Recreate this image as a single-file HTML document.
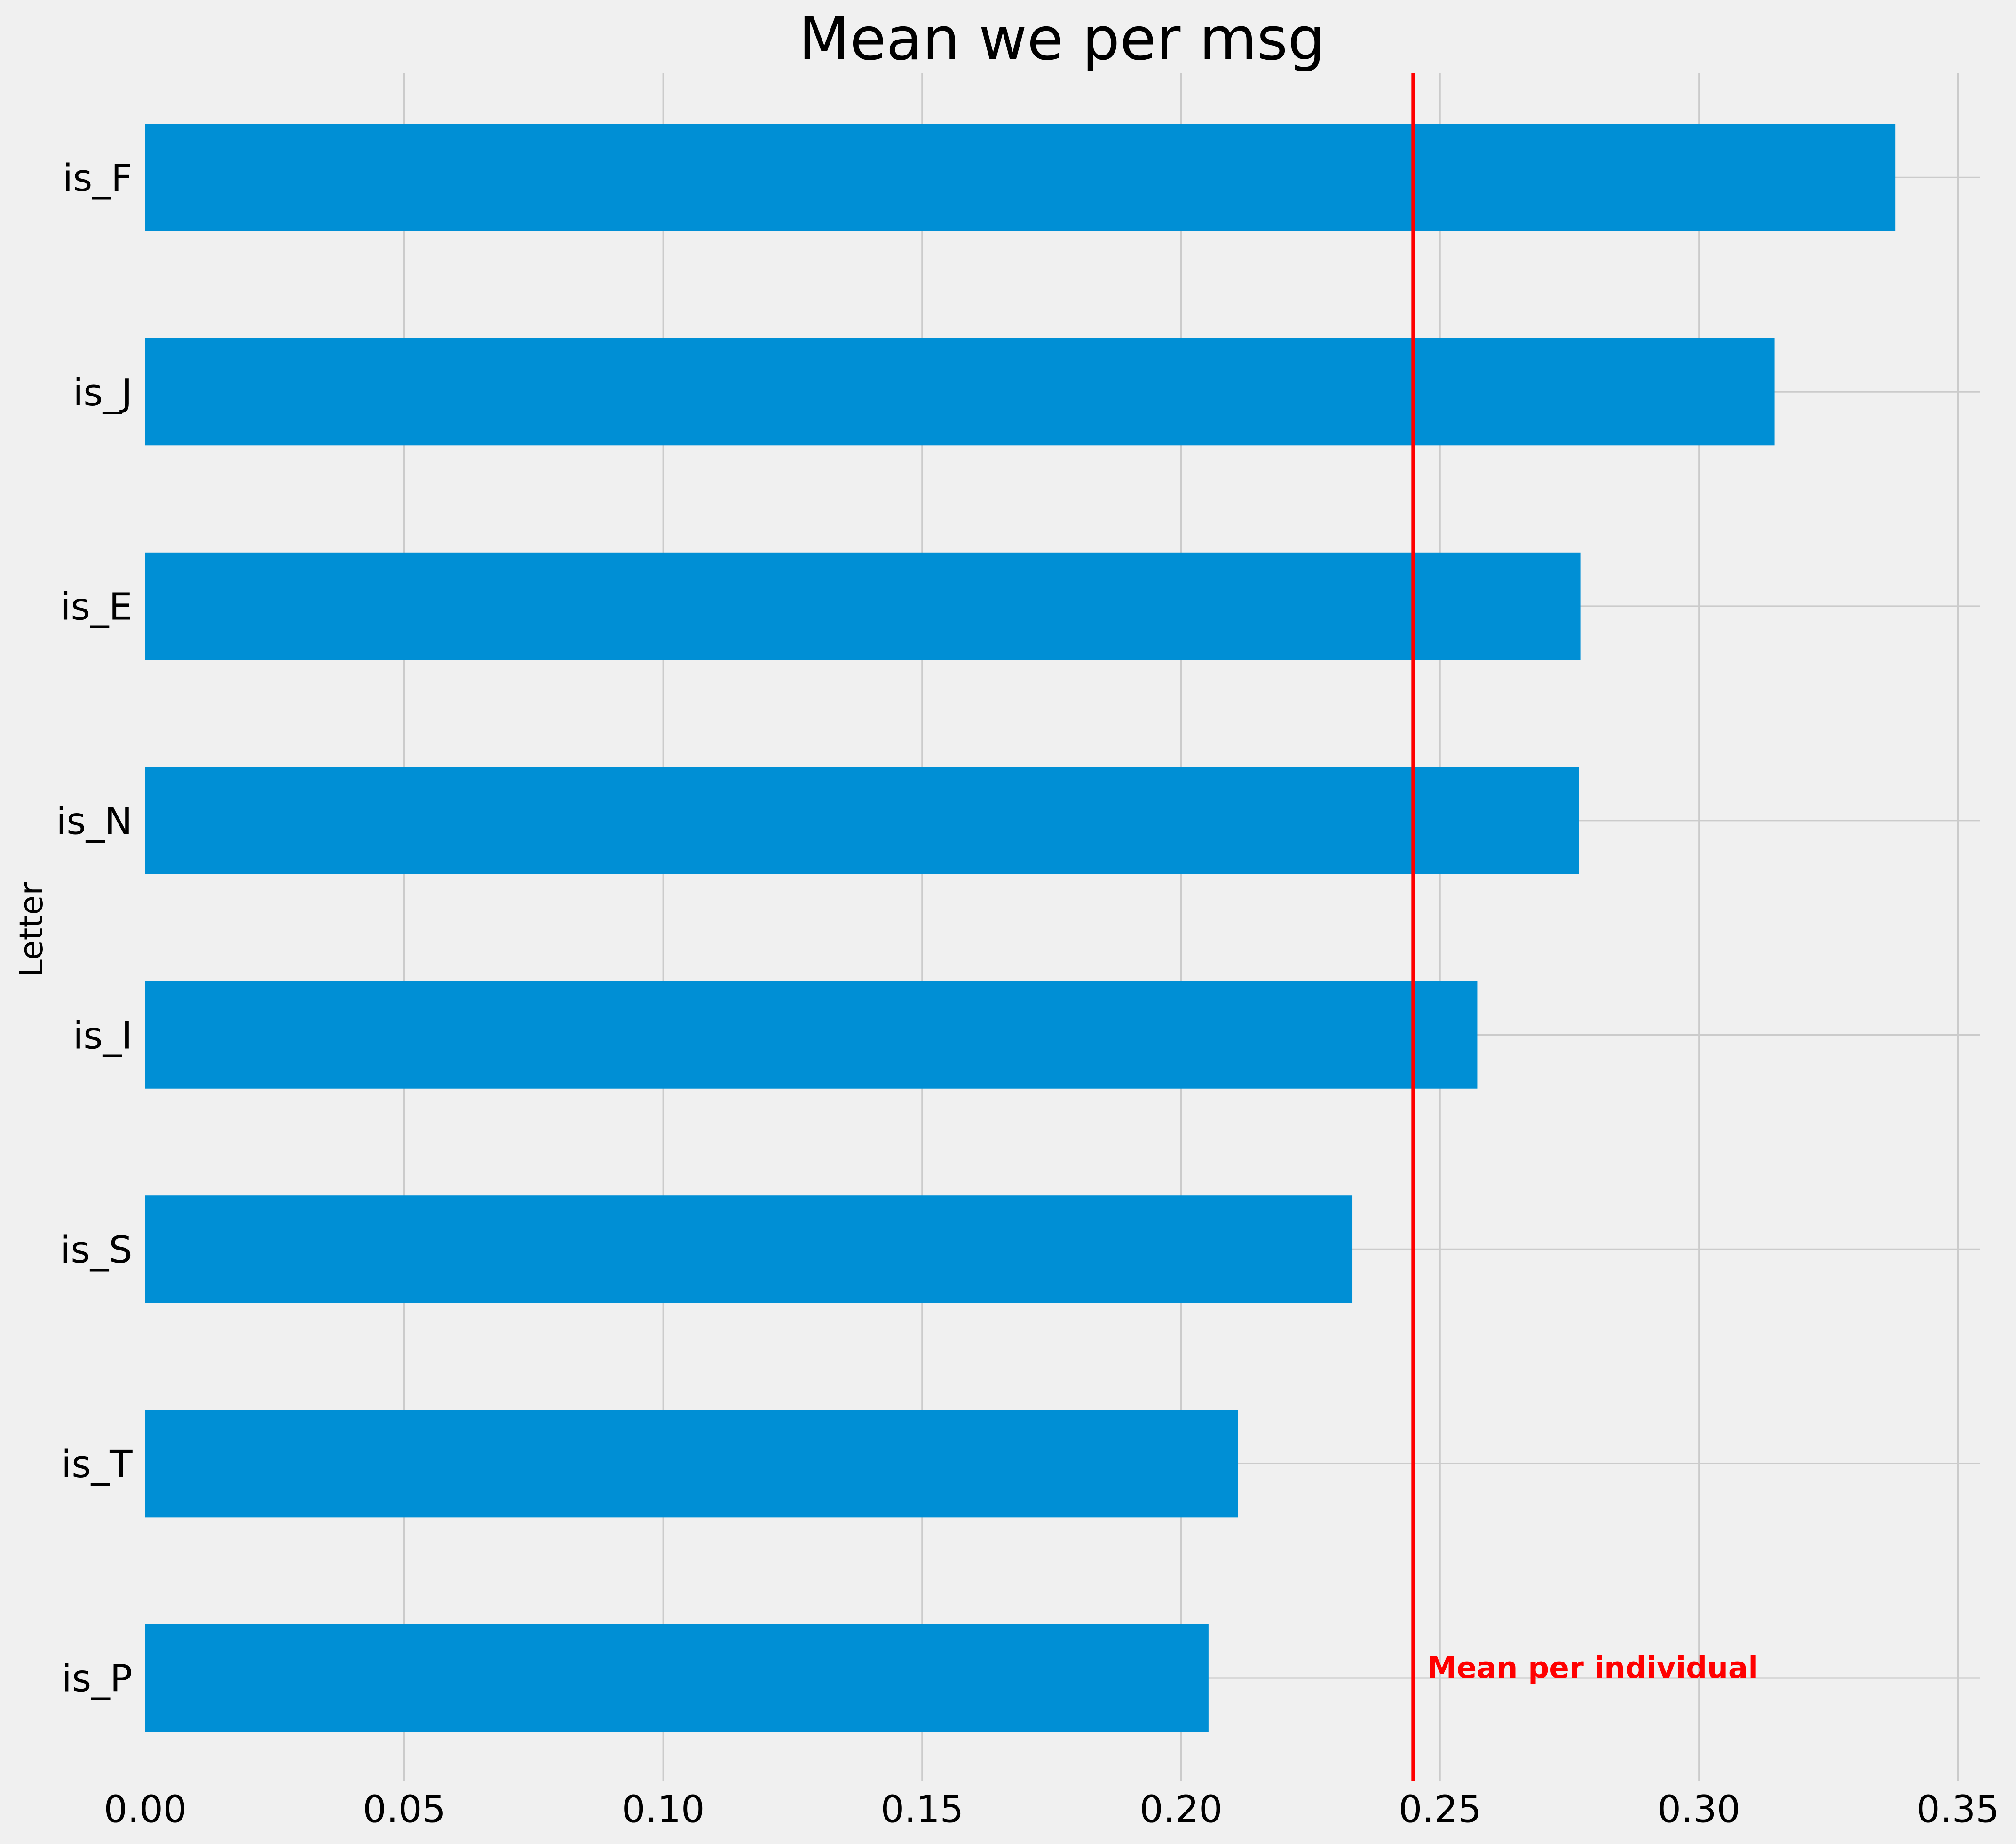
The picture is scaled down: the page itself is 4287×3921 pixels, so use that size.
<!DOCTYPE html>
<html><head><meta charset="utf-8"><style>
html,body{margin:0;padding:0;background:#f0f0f0;}
svg{display:block;}
text{font-family:"DejaVu Sans","Liberation Sans",sans-serif;}
</style></head><body>
<svg id="chart" width="4287" height="3921" viewBox="0 0 1568 1434" preserveAspectRatio="none" xmlns="http://www.w3.org/2000/svg">
<rect x="0" y="0" width="1568" height="1434" fill="#f0f0f0"/>
<text x="826" y="46" font-size="46" text-anchor="middle" fill="#000">Mean we per msg</text>
<text transform="translate(33,723) rotate(-90)" font-size="25" text-anchor="middle" fill="#000">Letter</text>
<g id="grid"></g><g id="bars"></g><g id="labels"></g>
</svg>
<script>
const categories = ["is_F","is_J","is_E","is_N","is_I","is_S","is_T","is_P"];
const values = [0.3379,0.3146,0.2771,0.2768,0.2572,0.2331,0.2110,0.2053];
const xTicks = [0,0.05,0.10,0.15,0.20,0.25,0.30,0.35];
const xTickLabels = ["0.00","0.05","0.10","0.15","0.20","0.25","0.30","0.35"];
const meanValue = 0.2448;
const meanLabel = "Mean per individual";

const NS = "http://www.w3.org/2000/svg";
const x0 = 113, pxPerUnit = 4028, plotTop = 57, plotBottom = 1385, plotRight = 1540;
const yStart = 138, yStep = 166.7, barH = 83.5;
const xs = v => x0 + v * pxPerUnit;
const ys = i => yStart + i * yStep;
function mk(tag, attrs, parent){const e=document.createElementNS(NS,tag);for(const k in attrs)e.setAttribute(k,attrs[k]);parent.appendChild(e);return e;}
const grid = document.getElementById('grid'), bars = document.getElementById('bars'), labels = document.getElementById('labels');
xTicks.forEach((t,i)=>{
  if(i>0){
    const g = mk('line',{x1:xs(t),x2:xs(t),y1:plotTop,y2:plotBottom,stroke:'#cbcbcb','stroke-width':1.2},grid);
    
    
  }
  const tl = mk('text',{x:xs(t),y:1417,'font-size':29,'text-anchor':'middle',fill:'#000'},labels);
  tl.textContent = xTickLabels[i];
  
  
});
categories.forEach((c,i)=>{
  const gl = mk('line',{x1:x0,x2:plotRight,y1:ys(i),y2:ys(i),stroke:'#cbcbcb','stroke-width':1.2},grid);
  
  
  const b = mk('rect',{x:x0,y:ys(i)-barH/2,width:xs(values[i])-x0,height:barH,fill:'#008fd5'},bars);
  
  
  const t = mk('text',{x:103,y:ys(i)+10.5,'font-size':29,'text-anchor':'end',fill:'#000'},labels);
  t.textContent = c;
  
  
});
const ml = mk('line',{x1:xs(meanValue),x2:xs(meanValue),y1:plotTop,y2:plotBottom,stroke:'#ff0000','stroke-width':2.6},labels);


const mt = mk('text',{x:xs(meanValue)+11,y:ys(categories.length-1),'font-size':23,'font-weight':'bold',fill:'#ff0000'},labels);
mt.textContent = meanLabel;


</script>
</body></html>
